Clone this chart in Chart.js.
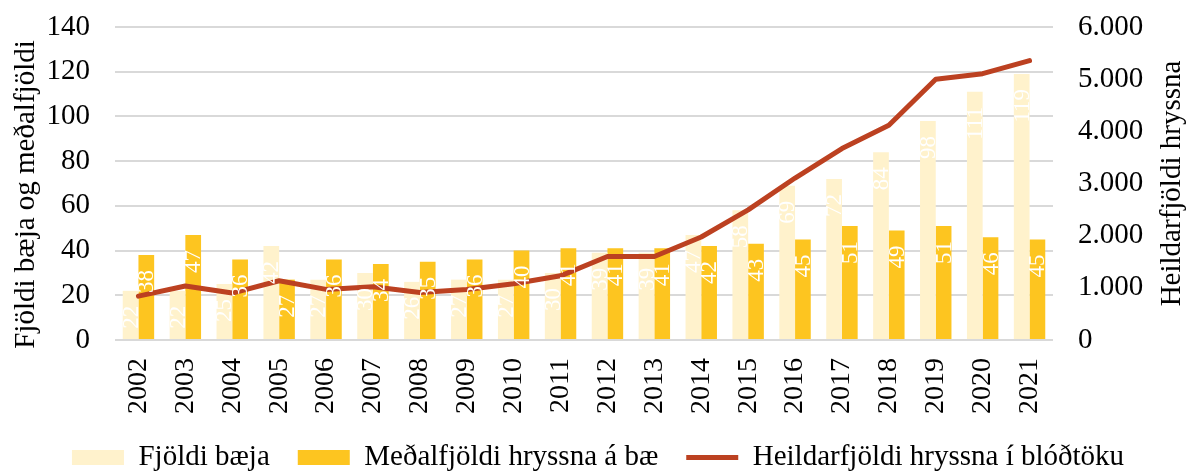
<!DOCTYPE html>
<html>
<head>
<meta charset="utf-8">
<script src="https://cdn.jsdelivr.net/npm/chart.js@4/dist/chart.umd.min.js"></script>
<style>
  body { margin: 0; background: #fff; }
</style>
</head>
<body>
<canvas id="chart" width="1186" height="472"></canvas>
<script>
// years on the x axis
const years = ["2002", "2003", "2004", "2005", "2006", "2007", "2008", "2009", "2010", "2011",
    "2012", "2013", "2014", "2015", "2016", "2017", "2018", "2019", "2020", "2021"];
// number of farms
const farms = [22, 22, 25, 42, 27, 30, 26, 27, 27, 30, 39, 39, 47, 58, 69, 72, 84, 98, 111, 119];
// average mares per farm
const avgMares = [38, 47, 36, 27, 36, 34, 35, 36, 40, 41, 41, 41, 42, 43, 45, 51, 49, 51, 46, 45];
// total mares in blood collection (right axis)
const totalMares = [840, 1035, 900, 1135, 970, 1020, 910, 970, 1080, 1230,
    1600, 1600, 1975, 2495, 3105, 3670, 4115, 5000, 5105, 5355];

const serif = "'Liberation Serif', 'Times New Roman', serif";
const leftTitle = "Fjöldi bæja og meðalfjöldi";
const rightTitle = "Heildarfjöldi hryssna";

//draws the rotated white value labels inside the bars
const barLabels = {
    id: "barLabels",
    afterDatasetsDraw(chart) {
        const ctx = chart.ctx;
        chart.data.datasets.forEach((ds, i) => {
            if (ds.type !== "bar") return;
            const meta = chart.getDatasetMeta(i);
            meta.data.forEach((bar, j) => {
                let text = String(ds.data[j]);
                ctx.save();
                ctx.font = "23px " + serif;
                let w = ctx.measureText(text).width;
                let top = bar.y + 15;
                if (top + w > bar.base - 4) top = Math.max(bar.y + 6, bar.base - 4 - w);
                ctx.translate(bar.x, top);
                ctx.rotate(-Math.PI / 2);
                ctx.fillStyle = "#ffffff";
                ctx.textAlign = "right";
                ctx.textBaseline = "middle";
                ctx.fillText(text, 0, 1);
                ctx.restore();
            });
        });
    }
};

//both axis titles read bottom to top, so they are drawn here
const axisTitles = {
    id: "axisTitles",
    afterDraw(chart) {
        const ctx = chart.ctx;
        const area = chart.chartArea;
        ctx.save();
        ctx.font = "29px " + serif;
        ctx.fillStyle = "#000";
        ctx.textAlign = "center";
        ctx.textBaseline = "middle";
        ctx.translate(chart.scales.y.left + 26, (area.top + area.bottom) / 2 + 11);
        ctx.rotate(-Math.PI / 2);
        ctx.fillText(leftTitle, 0, 0);
        ctx.restore();

        ctx.save();
        ctx.font = "29px " + serif;
        ctx.fillStyle = "#000";
        ctx.textAlign = "center";
        ctx.textBaseline = "middle";
        ctx.translate(chart.scales.y2.right - 14, (area.top + area.bottom) / 2);
        ctx.rotate(-Math.PI / 2);
        ctx.fillText(rightTitle, 0, 0);
        ctx.restore();
    }
};

//nudge the legend a bit to the right, like the original
const legendShift = {
    id: "legendShift",
    afterLayout(chart) {
        const lg = chart.legend;
        lg.left += 5;
        lg.right += 5;
    }
};

//fixed side widths and no extra label padding, so the plot sits where the original has it
function fixWidth(w) {
    return scale => {
        scale.width = w;
        scale.paddingTop = 0;
        scale.paddingBottom = 0;
    };
}

const ctx = document.querySelector("#chart").getContext("2d");
const chart = new Chart(ctx, {
    data: {
        labels: years,
        datasets: [{
            type: "bar",
            label: "Fjöldi bæja",
            data: farms,
            backgroundColor: "#FFF2CC",
            yAxisID: "y",
            order: 2,
            categoryPercentage: 0.67,
            barPercentage: 1
        }, {
            type: "bar",
            label: "Meðalfjöldi hryssna á bæ",
            data: avgMares,
            backgroundColor: "#FDC520",
            yAxisID: "y",
            order: 2,
            categoryPercentage: 0.67,
            barPercentage: 1
        }, {
            type: "line",
            label: "Heildarfjöldi hryssna í blóðtöku",
            data: totalMares,
            borderColor: "#BC4121",
            backgroundColor: "#BC4121",
            borderWidth: 5,
            borderCapStyle: "round",
            borderJoinStyle: "round",
            pointRadius: 0,
            tension: 0,
            yAxisID: "y2",
            order: 1
        }]
    },
    options: {
        responsive: false,
        animation: false,
        devicePixelRatio: 1,
        layout: { padding: { left: 0, right: 0, top: 27, bottom: -10 } },
        plugins: {
            tooltip: { enabled: false },
            legend: {
                position: "bottom",
                labels: {
                    font: { family: serif, size: 29 },
                    color: "#000",
                    usePointStyle: true,
                    pointStyleWidth: 52,
                    boxHeight: 15,
                    padding: 28,
                    generateLabels(chart) {
                        return chart.data.datasets.map((ds, i) => ({
                            text: ds.label,
                            fillStyle: ds.backgroundColor,
                            strokeStyle: ds.type === "line" ? ds.borderColor : ds.backgroundColor,
                            lineWidth: ds.type === "line" ? 5 : 0,
                            pointStyle: ds.type === "line" ? "line" : "rect",
                            fontColor: "#000",
                            datasetIndex: i
                        }));
                    }
                }
            }
        },
        scales: {
            x: {
                grid: { display: false, drawTicks: false },
                border: { display: false },
                ticks: {
                    font: { family: serif, size: 28 },
                    color: "#000",
                    minRotation: 90,
                    maxRotation: 90,
                    padding: 18
                },
                afterFit: scale => { scale.height = 75; }
            },
            y: {
                position: "left",
                min: 0,
                max: 140,
                ticks: {
                    stepSize: 20,
                    font: { family: serif, size: 29 },
                    color: "#000",
                    padding: 25
                },
                grid: { color: "#D9D9D9", lineWidth: 2, drawTicks: false },
                border: { display: false },
                afterFit: fixWidth(115)
            },
            y2: {
                position: "right",
                min: 0,
                max: 6000,
                ticks: {
                    stepSize: 1000,
                    font: { family: serif, size: 29 },
                    color: "#000",
                    padding: 25,
                    callback: v => String(v).replace(/\B(?=(\d{3})+(?!\d))/g, ".")
                },
                grid: { display: false, drawTicks: false },
                border: { display: false },
                afterFit: fixWidth(133)
            }
        }
    },
    plugins: [barLabels, axisTitles, legendShift]
});
</script>
</body>
</html>
